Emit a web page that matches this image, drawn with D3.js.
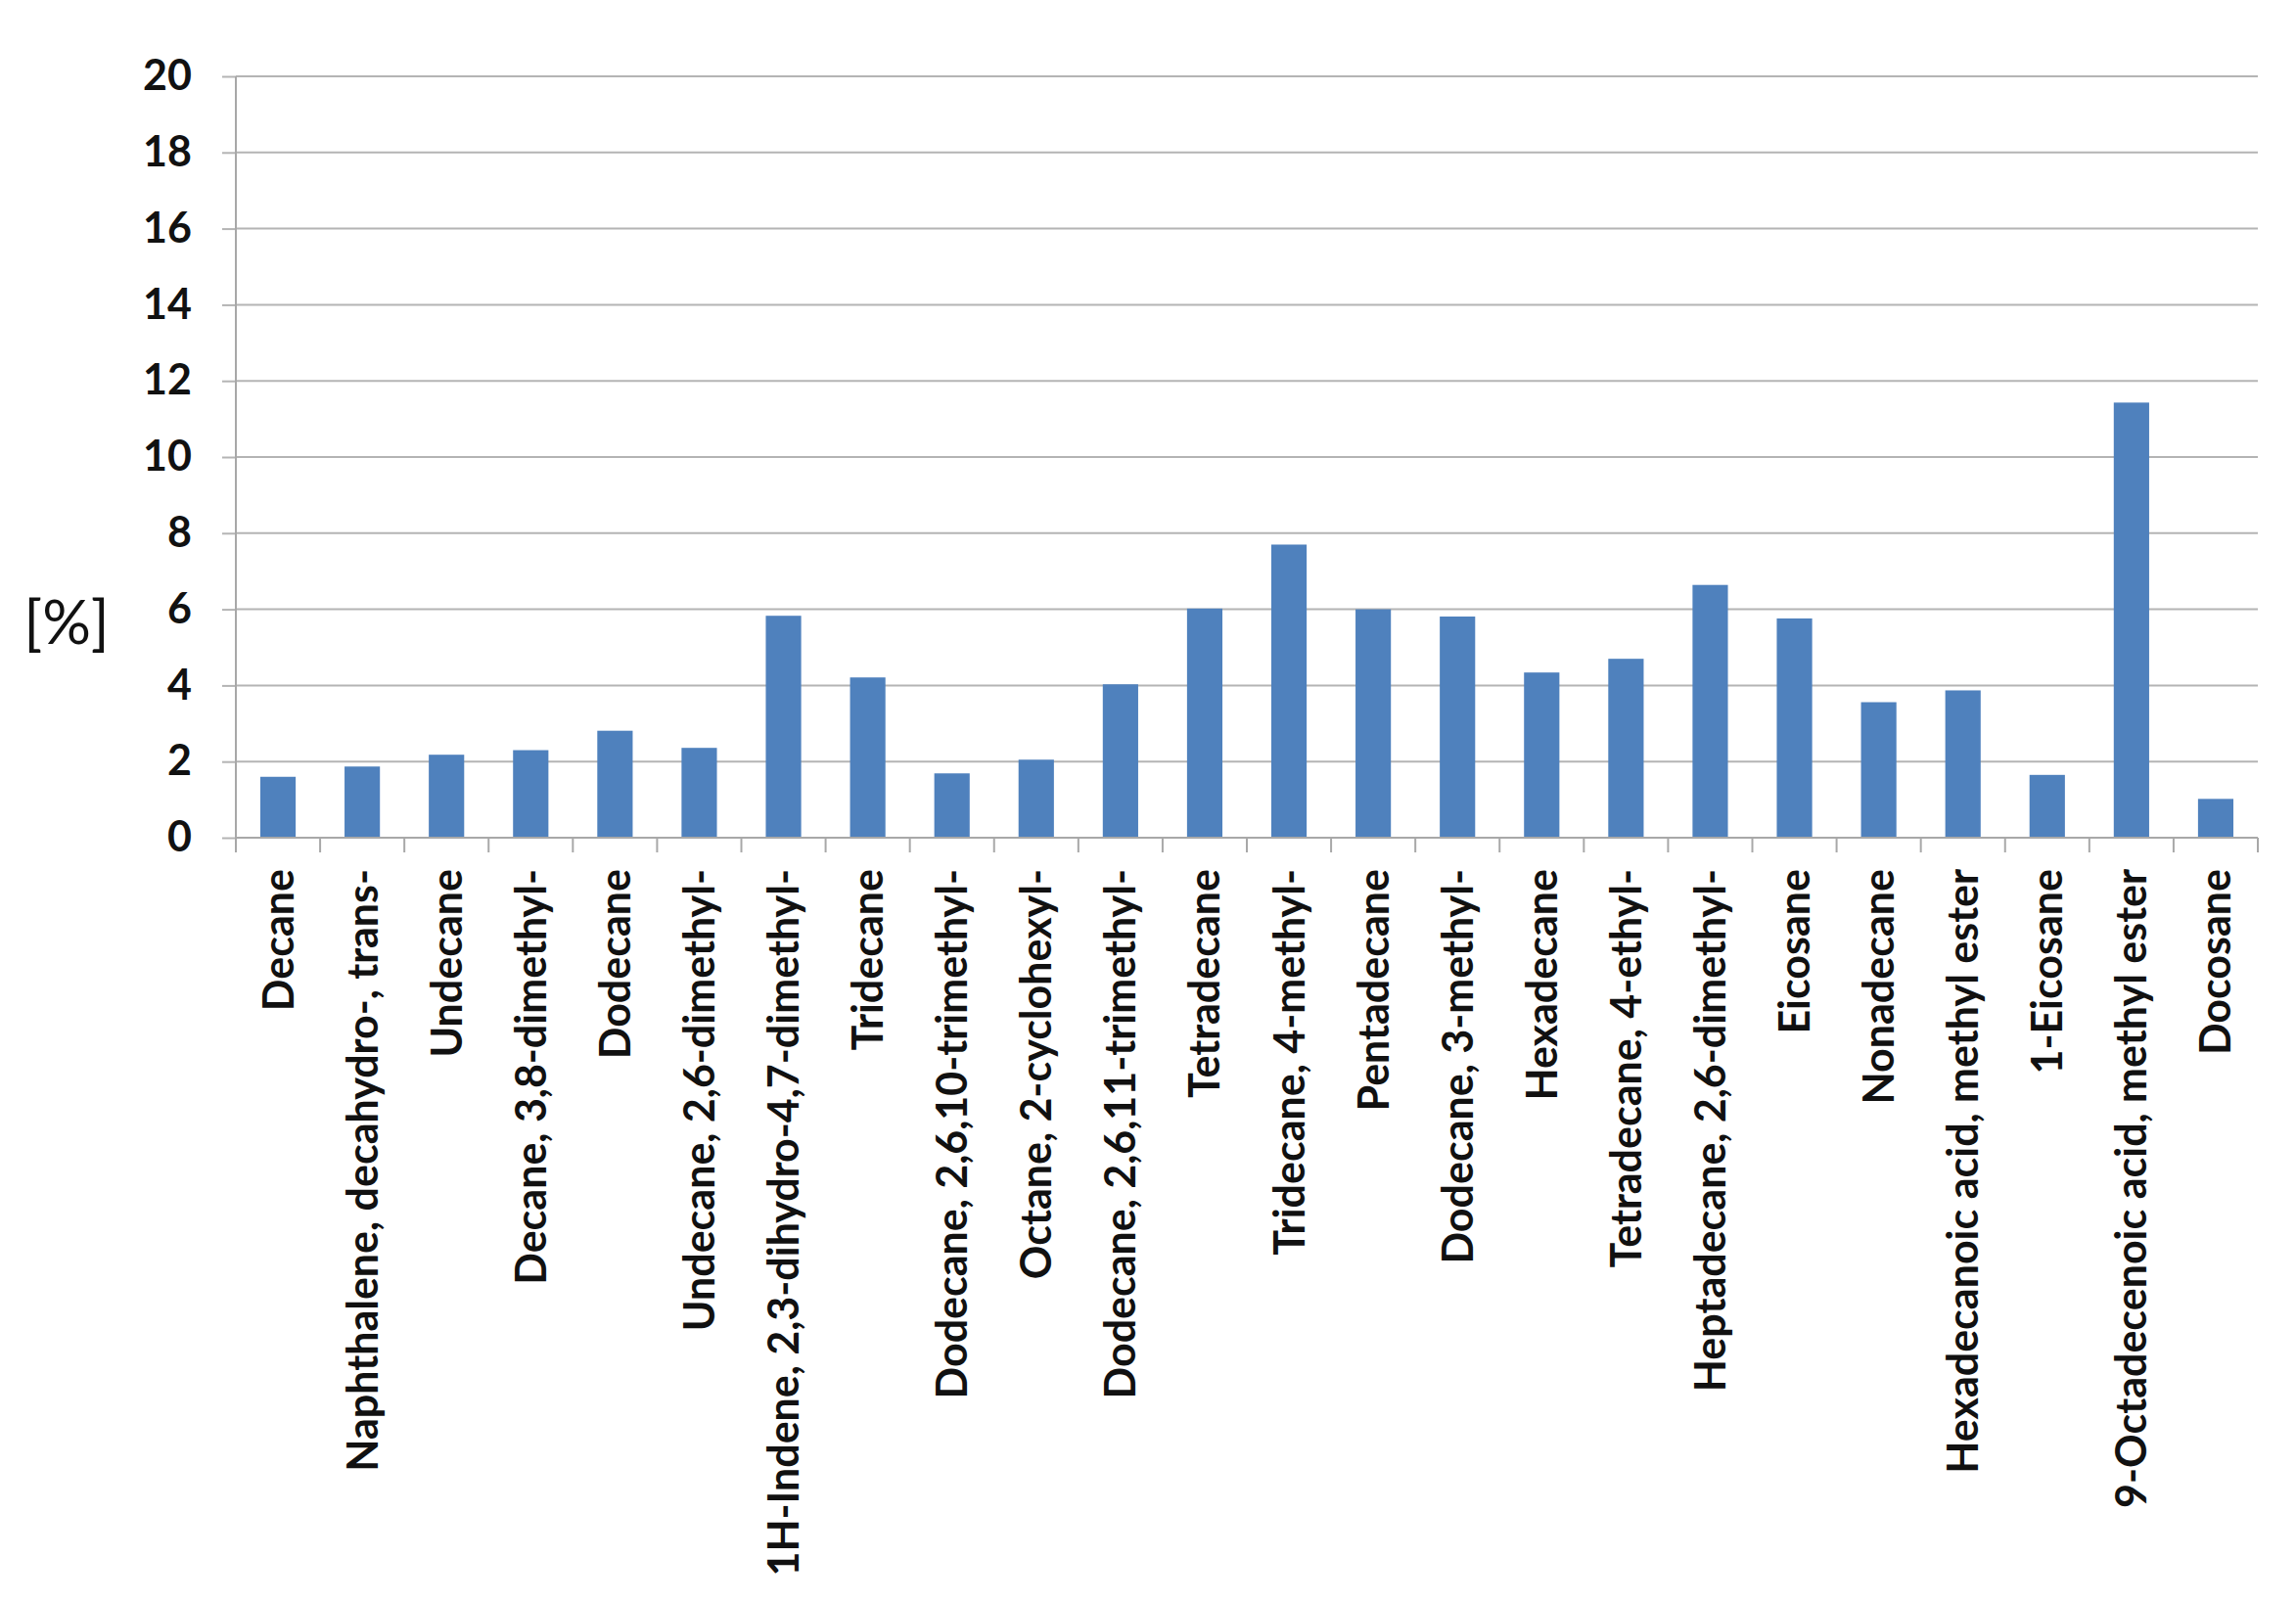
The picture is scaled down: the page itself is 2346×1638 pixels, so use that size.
<!DOCTYPE html>
<html>
<head>
<meta charset="utf-8">
<script src="https://cdn.jsdelivr.net/npm/d3@7"></script>
<style>
  html, body { margin: 0; padding: 0; background: #fff; }
  svg { display: block; font-family: Lato, "Open Sans", sans-serif; }
</style>
</head>
<body>
<div id="chart"></div>
<script>
// ── Data ─────────────────────────────────────────────────────────
const compounds = [
  'Decane',
  'Naphthalene, decahydro-, trans-',
  'Undecane',
  'Decane, 3,8-dimethyl-',
  'Dodecane',
  'Undecane, 2,6-dimethyl-',
  '1H-Indene, 2,3-dihydro-4,7-dimethyl-',
  'Tridecane',
  'Dodecane, 2,6,10-trimethyl-',
  'Octane, 2-cyclohexyl-',
  'Dodecane, 2,6,11-trimethyl-',
  'Tetradecane',
  'Tridecane, 4-methyl-',
  'Pentadecane',
  'Dodecane, 3-methyl-',
  'Hexadecane',
  'Tetradecane, 4-ethyl-',
  'Heptadecane, 2,6-dimethyl-',
  'Eicosane',
  'Nonadecane',
  'Hexadecanoic acid, methyl ester',
  '1-Eicosane',
  '9-Octadecenoic acid, methyl ester',
  'Docosane'
];
const percent = [
  1.60, 1.87, 2.18, 2.30, 2.81, 2.36, 5.83, 4.21, 1.69, 2.05, 4.03, 6.02,
  7.70, 6.00, 5.81, 4.34, 4.70, 6.64, 5.76, 3.56, 3.87, 1.65, 11.43, 1.02
];
const yTicks = [0, 2, 4, 6, 8, 10, 12, 14, 16, 18, 20];
const yLabel = '[%]';

// ── Layout ───────────────────────────────────────────────────────
const W = 2346, H = 1638;
const margin = { top: 78, right: 39, bottom: 782, left: 241 };
const iw = W - margin.left - margin.right;
const ih = H - margin.top - margin.bottom;

const svg = d3.select('#chart').append('svg')
  .attr('width', W)
  .attr('height', H);

const g = svg.append('g')
  .attr('transform', `translate(${margin.left},${margin.top})`);

const x = d3.scaleBand()
  .domain(compounds)
  .range([0, iw])
  .paddingInner(0.58)
  .paddingOuter(0.29);

const y = d3.scaleLinear()
  .domain([0, 20])
  .range([ih, 0]);

// Gridlines + y ticks
const yAxis = g.append('g')
  .call(d3.axisLeft(y).tickValues(yTicks).tickSize(14).tickPadding(31).tickSizeOuter(0))
  .attr('font-family', null);
yAxis.select('.domain').remove();
yAxis.selectAll('.tick line').attr('stroke', '#b4b4b4').attr('stroke-width', 2);
yAxis.selectAll('.tick text')
  .attr('fill', '#111')
  .attr('font-size', '43px')
  .attr('font-weight', 700);

g.append('g')
  .selectAll('line')
  .data(yTicks)
  .join('line')
  .attr('x1', 0)
  .attr('x2', iw)
  .attr('y1', d => y(d))
  .attr('y2', d => y(d))
  .attr('stroke', '#b4b4b4')
  .attr('stroke-width', 2);

// Y axis line
g.append('line')
  .attr('x1', 0).attr('x2', 0)
  .attr('y1', 0).attr('y2', ih)
  .attr('stroke', '#a8a8a8')
  .attr('stroke-width', 2);

// Bars
g.selectAll('rect.bar')
  .data(percent)
  .join('rect')
  .attr('class', 'bar')
  .attr('x', (d, i) => x(compounds[i]))
  .attr('y', d => y(d))
  .attr('width', x.bandwidth())
  .attr('height', d => ih - y(d))
  .attr('fill', '#4f81bd');

// X axis: ticks at band boundaries
const step = x.step();
const bounds = d3.range(compounds.length + 1).map(i => i * step);
const xAxis = g.append('g').attr('transform', `translate(0,${ih})`);
xAxis.append('line')
  .attr('x1', 0).attr('x2', iw)
  .attr('stroke', '#a8a8a8')
  .attr('stroke-width', 2);
xAxis.selectAll('line.tk')
  .data(bounds)
  .join('line')
  .attr('class', 'tk')
  .attr('x1', d => d).attr('x2', d => d)
  .attr('y1', 0).attr('y2', 15)
  .attr('stroke', '#a8a8a8')
  .attr('stroke-width', 2);

xAxis.selectAll('text')
  .data(compounds)
  .join('text')
  .attr('transform', d => `translate(${x(d) + x.bandwidth() / 2},32) rotate(-90)`)
  .attr('text-anchor', 'end')
  .attr('dy', '0.36em')
  .attr('fill', '#111')
  .attr('font-size', '43px')
  .attr('font-weight', 700)
  .text(d => d);

// Y label
svg.append('text')
  .attr('x', 68)
  .attr('y', 636)
  .attr('dy', '0.36em')
  .attr('text-anchor', 'middle')
  .attr('fill', '#111')
  .attr('font-size', '62px')
  .text(yLabel);
</script>
</body>
</html>
